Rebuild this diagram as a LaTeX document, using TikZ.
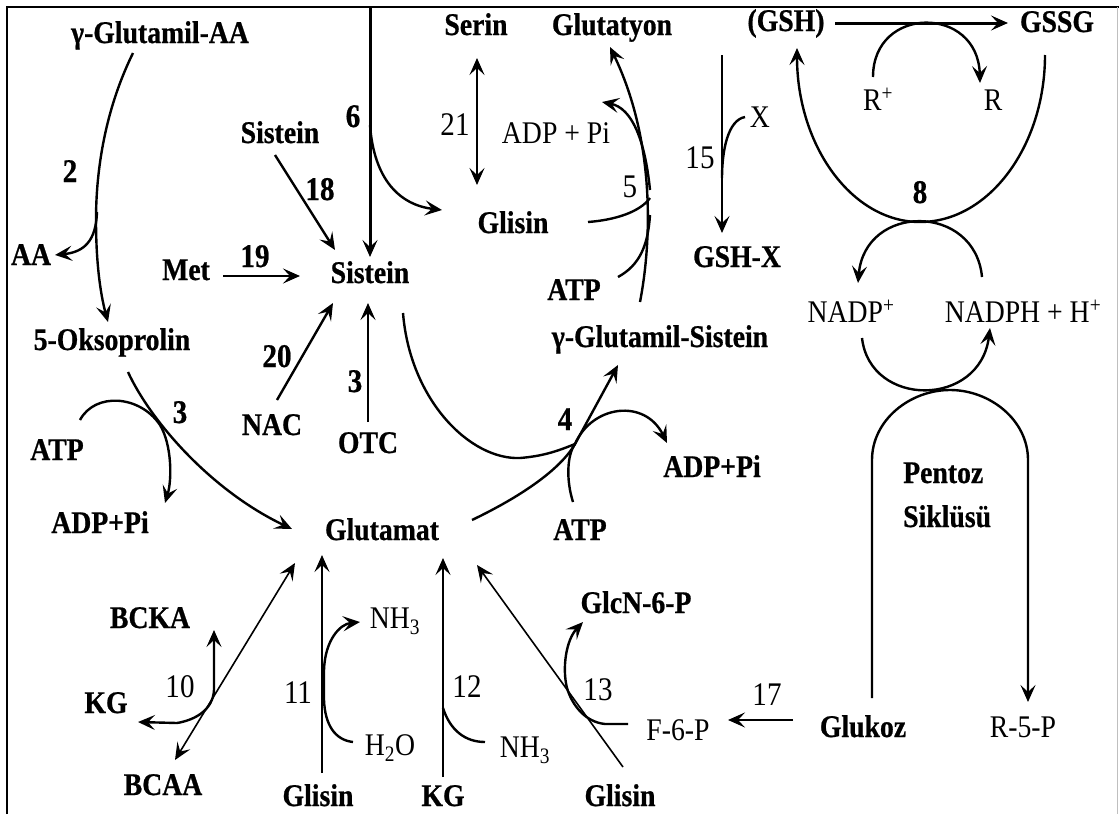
\documentclass[tikz,border=0pt]{standalone}
\usepackage{fontspec}
\setmainfont{Liberation Serif}[FakeStretch=0.88, BoldFeatures={FakeBold=0.7}]
\usetikzlibrary{arrows.meta}
\begin{document}
\begin{tikzpicture}[x=1pt,y=-1pt,
  t/.style={inner sep=0pt, anchor=base, font=\fontsize{31.5}{33}\selectfont\bfseries},
  tr/.style={inner sep=0pt, anchor=base, font=\fontsize{31.5}{33}\selectfont},
  n/.style={inner sep=0pt, anchor=base, font=\fontsize{33}{34}\selectfont\bfseries},
  nr/.style={inner sep=0pt, anchor=base, font=\fontsize{33}{34}\selectfont},
  ln/.style={line width=2.4pt},
  lnthin/.style={line width=1.6pt},
  tip/.tip={Stealth[length=17pt,width=15pt,inset=7pt]},
  ar/.style={ln,-tip},
  arthin/.style={lnthin,-tip},
]
\useasboundingbox (0,0) rectangle (1119,814);
% frame
\draw[line width=1.2pt] (7,814) -- (7,7) -- (1119,7);
\draw[gray!50,line width=1pt] (1117,7) -- (1117,814);

% ---- nodes ----
\node[t] (gaa) at (160,43) {γ-Glutamil-AA};
\node[t] (serin) at (476,35) {Serin};
\node[t] (gtyon) at (612,35) {Glutatyon};
\node[t] (gsh) at (786,31) {(GSH)};
\node[t] (gssg) at (1057,32) {GSSG};
\node[tr] (rp) at (878,110) {R\textsuperscript{+}};
\node[tr] (r) at (993,110) {R};
\node[n] (l8) at (920,203) {8};
\node[tr] (nadp) at (851,322) {NADP\textsuperscript{+}};
\node[tr] (nadph) at (1023,322) {NADPH + H\textsuperscript{+}};
\node[t,anchor=base west] (pentoz) at (903,483) {Pentoz};
\node[t,anchor=base west] (siklusu) at (903,527) {Siklüsü};
\node[t] (glukoz) at (863,737) {Glukoz};
\node[tr] (r5p) at (1023,737) {R-5-P};
\node[tr] (f6p) at (678,740) {F-6-P};
\node[nr] (l17) at (767,705) {17};
\node[t] (glcn) at (636,613) {GlcN-6-P};
\node[nr] (l13) at (598,700) {13};
\node[t] (glisin3) at (620,806) {Glisin};
\node[t] (kg2) at (443,806) {KG};
\node[nr] (l12) at (467,697) {12};
\node[tr] (nh3b) at (525,757) {NH\textsubscript{3}};
\node[t] (glisin2) at (318,806) {Glisin};
\node[tr] (h2o) at (390,755) {H\textsubscript{2}O};
\node[tr] (nh3a) at (395,628) {NH\textsubscript{3}};
\node[nr] (l11) at (298,703) {11};
\node[t] (bcka) at (150,628) {BCKA};
\node[t] (kg1) at (106,713) {KG};
\node[nr] (l10) at (180,697) {10};
\node[t] (bcaa) at (163,795) {BCAA};
\node[t] (glutamat) at (382,540) {Glutamat};
\node[t] (adpl) at (100,533) {ADP+Pi};
\node[t] (atpl) at (57,460) {ATP};
\node[n] (l3a) at (180,423) {3};
\node[t] (oksop) at (112,350) {5-Oksoprolin};
\node[t] (nac) at (272,435) {NAC};
\node[n] (l20) at (277,367) {20};
\node[t] (otc) at (368,453) {OTC};
\node[n] (l3b) at (355,392) {3};
\node[t] (aa) at (31,265) {AA};
\node[n] (l2) at (70,182) {2};
\node[t] (sist1) at (280,143) {Sistein};
\node[n] (l18) at (320,200) {18};
\node[t] (met) at (186,280) {Met};
\node[n] (l19) at (255,267) {19};
\node[n] (l6) at (353,127) {6};
\node[t] (sist) at (370,283) {Sistein};
\node[nr] (l21) at (455,135) {21};
\node[tr] (adpt) at (556,143) {ADP + Pi};
\node[t] (glisin1) at (513,233) {Glisin};
\node[nr] (l5) at (630,197) {5};
\node[nr] (l15) at (700,168) {15};
\node[tr] (x) at (760,127) {X};
\node[t] (gshx) at (737,267) {GSH-X};
\node[t] (atpu) at (574,300) {ATP};
\node[t] (gsist) at (660,347) {γ-Glutamil-Sistein};
\node[n] (l4) at (565,430) {4};
\node[t] (adpr) at (712,477) {ADP+Pi};
\node[t] (atpd) at (580,540) {ATP};

% ---- coordinates ----
\coordinate (c2a) at (133,53);
\coordinate (c2b) at (96,220);
\coordinate (c2e) at (108,322);
\coordinate (c2j) at (97,212);
\coordinate (caa) at (55,255);
\coordinate (c6t) at (370,7);
\coordinate (c6e) at (370,257);
\coordinate (c6j) at (370,125);
\coordinate (cg1) at (442,210);
\coordinate (c18a) at (275,155);
\coordinate (c18b) at (335,250);
\coordinate (c19a) at (223,276);
\coordinate (c19b) at (300,276);
\coordinate (c20a) at (277,400);
\coordinate (c20b) at (333,303);
\coordinate (c3a) at (368,422);
\coordinate (c3b) at (368,303);
\coordinate (c21a) at (477,58);
\coordinate (c21b) at (477,185);
\coordinate (c4s) at (403,313);
\coordinate (c4j) at (575,444);
\coordinate (c4g) at (472,520);
\coordinate (c4e) at (618,365);
\coordinate (c4atp) at (573,502);
\coordinate (c4adp) at (667,443);
\coordinate (c5s) at (640,302);
\coordinate (c5e) at (610,47);
\coordinate (c5j1) at (650,190);
\coordinate (c5adp) at (602,102);
\coordinate (c5gl) at (588,222);
\coordinate (c5j2) at (650,198);
\coordinate (c5atp) at (618,277);
\coordinate (c5j3) at (650,215);
\coordinate (c15a) at (722,55);
\coordinate (c15b) at (722,233);
\coordinate (c15x) at (745,117);
\coordinate (c15j) at (722,178);
\coordinate (cgsh) at (835,23);
\coordinate (cgssg) at (1008,23);
\coordinate (crp) at (873,77);
\coordinate (cr) at (980,83);
\coordinate (cUr) at (1045,55);
\coordinate (cUb) at (920,222);
\coordinate (cUl) at (797,48);
\coordinate (c8r) at (982,277);
\coordinate (c8l) at (858,283);
\coordinate (cLl) at (862,338);
\coordinate (cLr) at (990,328);
\coordinate (cPg) at (872,698);
\coordinate (cPr) at (1028,702);
\coordinate (c17a) at (793,720);
\coordinate (c17b) at (728,720);
\coordinate (c13a) at (623,767);
\coordinate (c13b) at (477,565);
\coordinate (c13f) at (628,724);
\coordinate (c13g) at (583,622);
\coordinate (c12a) at (443,777);
\coordinate (c12b) at (443,558);
\coordinate (c12j) at (443,708);
\coordinate (c12n) at (485,742);
\coordinate (c11a) at (322,773);
\coordinate (c11b) at (322,555);
\coordinate (c11h) at (353,742);
\coordinate (c11n) at (360,622);
\coordinate (c10a) at (175,760);
\coordinate (c10b) at (295,563);
\coordinate (c10k) at (138,722);
\coordinate (c10c) at (214,630);
\coordinate (c3s) at (128,372);
\coordinate (c3e) at (292,529);
\coordinate (c3atp) at (80,420);
\coordinate (c3adp) at (165,503);

% ---- connectors ----
% 2
\draw[ar] (c2a) .. controls (105,110) and (96,170) .. (c2b) .. controls (96,270) and (102,300) .. (c2e);
\draw[ar] (c2j) .. controls (96,240) and (85,252) .. (caa);
% 6
\draw[ar,line width=3pt] (c6t) -- (c6e);
\draw[ar] (c6j) .. controls (374,180) and (400,205) .. (cg1);
% 18, 19, 20, 3
\draw[ar] (c18a) -- (c18b);
\draw[ar] (c19a) -- (c19b);
\draw[ar] (c20a) -- (c20b);
\draw[ar] (c3a) -- (c3b);
% 21
\draw[lnthin,tip-tip] (c21a) -- (c21b);
% 4
\draw[ln] (c4s) .. controls (410,400) and (470,460) .. (520,458) .. controls (545,456) and (560,450) .. (c4j);
\draw[ar] (c4g) .. controls (520,497) and (560,470) .. (c4j) -- (c4e);
\draw[ln] (c4atp) .. controls (566,480) and (567,455) .. (c4j);
\draw[ar] (c4j) .. controls (592,405) and (645,398) .. (c4adp);
% 5
\draw[ar] (c5s) .. controls (652,240) and (655,140) .. (c5e);
\draw[ar] (c5j1) .. controls (645,140) and (632,108) .. (c5adp);
\draw[ln] (c5gl) .. controls (615,220) and (640,212) .. (c5j2);
\draw[ln] (c5atp) .. controls (640,265) and (648,245) .. (c5j3);
% 15
\draw[ar] (c15a) -- (c15b);
\draw[ln] (c15x) .. controls (728,120) and (722,150) .. (c15j);
% GSH -> GSSG
\draw[ar,line width=3pt] (cgsh) -- (cgssg);
\draw[ar] (crp) .. controls (873,5) and (978,5) .. (cr);
% 8
\draw[ar] (cUr) .. controls (1045,146) and (989,222) .. (cUb) .. controls (852,222) and (797,146) .. (cUl);
\draw[ar] (c8r) .. controls (975,203) and (865,203) .. (c8l);
\draw[ar] (cLl) .. controls (870,408) and (980,408) .. (cLr);
% Pentoz
\draw[ar] (cPg) -- (872,460) .. controls (872,420) and (910,390) .. (950,390) .. controls (990,390) and (1028,420) .. (1028,460) -- (cPr);
% 17
\draw[ar] (c17a) -- (c17b);
% 13
\draw[arthin] (c13a) -- (c13b);
\draw[ar] (c13f) -- (605,724) .. controls (585,722) and (572,705) .. (567,688) .. controls (562,668) and (566,640) .. (c13g);
% 12
\draw[arthin] (c12a) -- (c12b);
\draw[ln] (c12j) .. controls (450,730) and (465,742) .. (c12n);
% 11
\draw[ar] (c11a) -- (c11b);
\draw[ar] (c11h) .. controls (335,740) and (325,725) .. (324,700) -- (324,670) .. controls (325,640) and (340,624) .. (c11n);
% 10
\draw[lnthin,tip-tip] (c10a) -- (c10b);
\draw[ln,tip-tip] (c10k) -- (177,723) .. controls (195,720) and (213,710) .. (214,690) -- (c10c);
% 3 (left)
\draw[ar] (c3s) .. controls (150,420) and (210,490) .. (c3e);
\draw[ar] (c3atp) .. controls (95,392) and (140,395) .. (160,425) .. controls (172,445) and (172,480) .. (c3adp);
\end{tikzpicture}
\end{document}
